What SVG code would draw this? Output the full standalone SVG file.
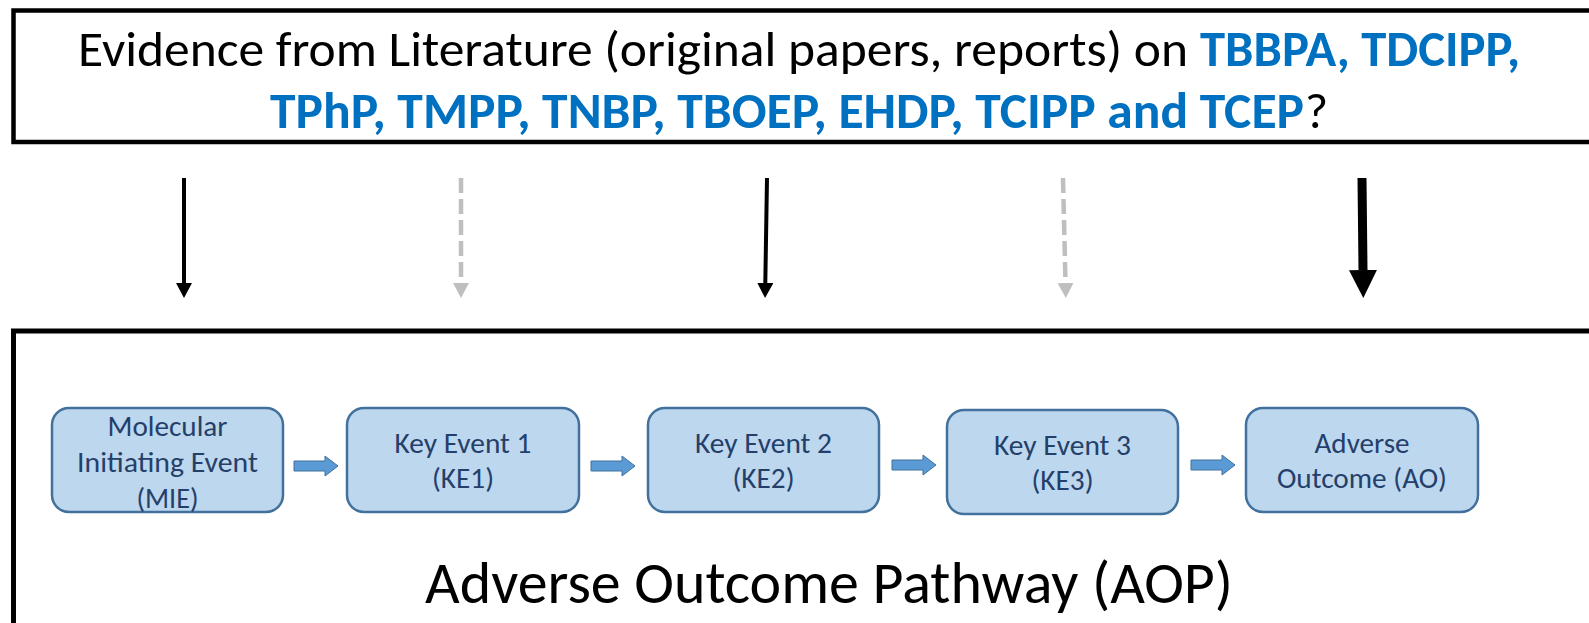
<svg xmlns="http://www.w3.org/2000/svg" xmlns:xlink="http://www.w3.org/1999/xlink" width="1589" height="623" viewBox="0 0 1589 623">
  <style>
    .frame { fill: none; stroke: #000; }
    .q { font-family: Carlito, Calibri, Lato, "Open Sans", sans-serif; font-size: 50px; fill: #000; }
    .chem { font-weight: bold; fill: #0070C0; }
    .node rect { fill: #BDD7EE; stroke: #41719C; stroke-width: 2.5; }
    .node text { font-family: Carlito, Calibri, Lato, "Open Sans", sans-serif; font-size: 29px; fill: #24406A; text-anchor: middle; }
    .solid { stroke: #000; fill: none; }
    .weak { stroke: #BFBFBF; fill: none; stroke-dasharray: 15 6; }
    .step { fill: #5B9BD5; stroke: #41719C; stroke-width: 1; }
    .title { font-family: Carlito, Calibri, Lato, "Open Sans", sans-serif; font-size: 60px; fill: #000; }
  </style>
  <defs>
    <marker id="headBlack" markerUnits="userSpaceOnUse" markerWidth="16" markerHeight="16" refX="0" refY="8" orient="auto">
      <path d="M0,0 L15,8 L0,16 Z" fill="#000"/>
    </marker>
    <marker id="headGrey" markerUnits="userSpaceOnUse" markerWidth="16" markerHeight="16" refX="0" refY="8" orient="auto">
      <path d="M0,0 L15,8 L0,16 Z" fill="#BFBFBF"/>
    </marker>
    <marker id="headBig" markerUnits="userSpaceOnUse" markerWidth="28" markerHeight="28" refX="0" refY="14" orient="auto">
      <path d="M0,0 L28,14 L0,28 Z" fill="#000"/>
    </marker>
    <path id="blockArrow" d="M0,-5 H31 V-10 L44,0 L31,10 V5 H0 Z"/>
  </defs>

  <!-- question box -->
  <g id="question">
    <rect class="frame" x="13.5" y="10.5" width="1620" height="131.5" stroke-width="4.5"/>
    <text class="q" x="78" y="66" textLength="1110" lengthAdjust="spacingAndGlyphs">Evidence from Literature (original papers, reports) on</text>
    <text class="q chem" x="1200" y="66" textLength="320" lengthAdjust="spacingAndGlyphs">TBBPA, TDCIPP,</text>
    <text class="q chem" x="270" y="128" textLength="1034" lengthAdjust="spacingAndGlyphs">TPhP, TMPP, TNBP, TBOEP, EHDP, TCIPP and TCEP</text>
    <text class="q" x="1305" y="128">?</text>
  </g>

  <!-- evidence arrows -->
  <g id="connectors">
    <line class="solid" x1="184" y1="178" x2="184" y2="283" stroke-width="4" marker-end="url(#headBlack)"/>
    <line class="weak" x1="461" y1="178" x2="461" y2="283" stroke-width="4.5" marker-end="url(#headGrey)"/>
    <line class="solid" x1="767" y1="178" x2="765.3" y2="283" stroke-width="4" marker-end="url(#headBlack)"/>
    <line class="weak" x1="1063" y1="178" x2="1065.5" y2="283" stroke-width="4.5" marker-end="url(#headGrey)"/>
    <line class="solid" x1="1362" y1="178" x2="1363" y2="270" stroke-width="9" marker-end="url(#headBig)"/>

    <use class="step" xlink:href="#blockArrow" x="294" y="466"/>
    <use class="step" xlink:href="#blockArrow" x="591" y="466"/>
    <use class="step" xlink:href="#blockArrow" x="892" y="465"/>
    <use class="step" xlink:href="#blockArrow" x="1191" y="465"/>
  </g>

  <!-- pathway box -->
  <g id="pathway">
    <rect class="frame" x="13.5" y="331" width="1620" height="400" stroke-width="5"/>
    <text class="title" x="425" y="603" textLength="808" lengthAdjust="spacingAndGlyphs">Adverse Outcome Pathway (AOP)</text>
  </g>

  <g id="mie" class="node">
    <rect x="52" y="408" width="231" height="104" rx="17"/>
    <text x="167.5" y="436" textLength="120" lengthAdjust="spacingAndGlyphs">Molecular</text>
    <text x="167.5" y="472" textLength="181" lengthAdjust="spacingAndGlyphs">Initiating Event</text>
    <text x="167.5" y="508" textLength="62" lengthAdjust="spacingAndGlyphs">(MIE)</text>
  </g>

  <g id="ke1" class="node">
    <rect x="347" y="408" width="232" height="104" rx="17"/>
    <text x="463" y="453" textLength="137" lengthAdjust="spacingAndGlyphs">Key Event 1</text>
    <text x="463" y="488" textLength="62" lengthAdjust="spacingAndGlyphs">(KE1)</text>
  </g>

  <g id="ke2" class="node">
    <rect x="648" y="408" width="231" height="104" rx="17"/>
    <text x="763.5" y="453" textLength="137" lengthAdjust="spacingAndGlyphs">Key Event 2</text>
    <text x="763.5" y="488" textLength="62" lengthAdjust="spacingAndGlyphs">(KE2)</text>
  </g>

  <g id="ke3" class="node">
    <rect x="947" y="410" width="231" height="104" rx="17"/>
    <text x="1062.5" y="455" textLength="137" lengthAdjust="spacingAndGlyphs">Key Event 3</text>
    <text x="1062.5" y="490" textLength="62" lengthAdjust="spacingAndGlyphs">(KE3)</text>
  </g>

  <g id="ao" class="node">
    <rect x="1246" y="408" width="232" height="104" rx="17"/>
    <text x="1362" y="453" textLength="95" lengthAdjust="spacingAndGlyphs">Adverse</text>
    <text x="1362" y="488" textLength="170" lengthAdjust="spacingAndGlyphs">Outcome (AO)</text>
  </g>
</svg>
